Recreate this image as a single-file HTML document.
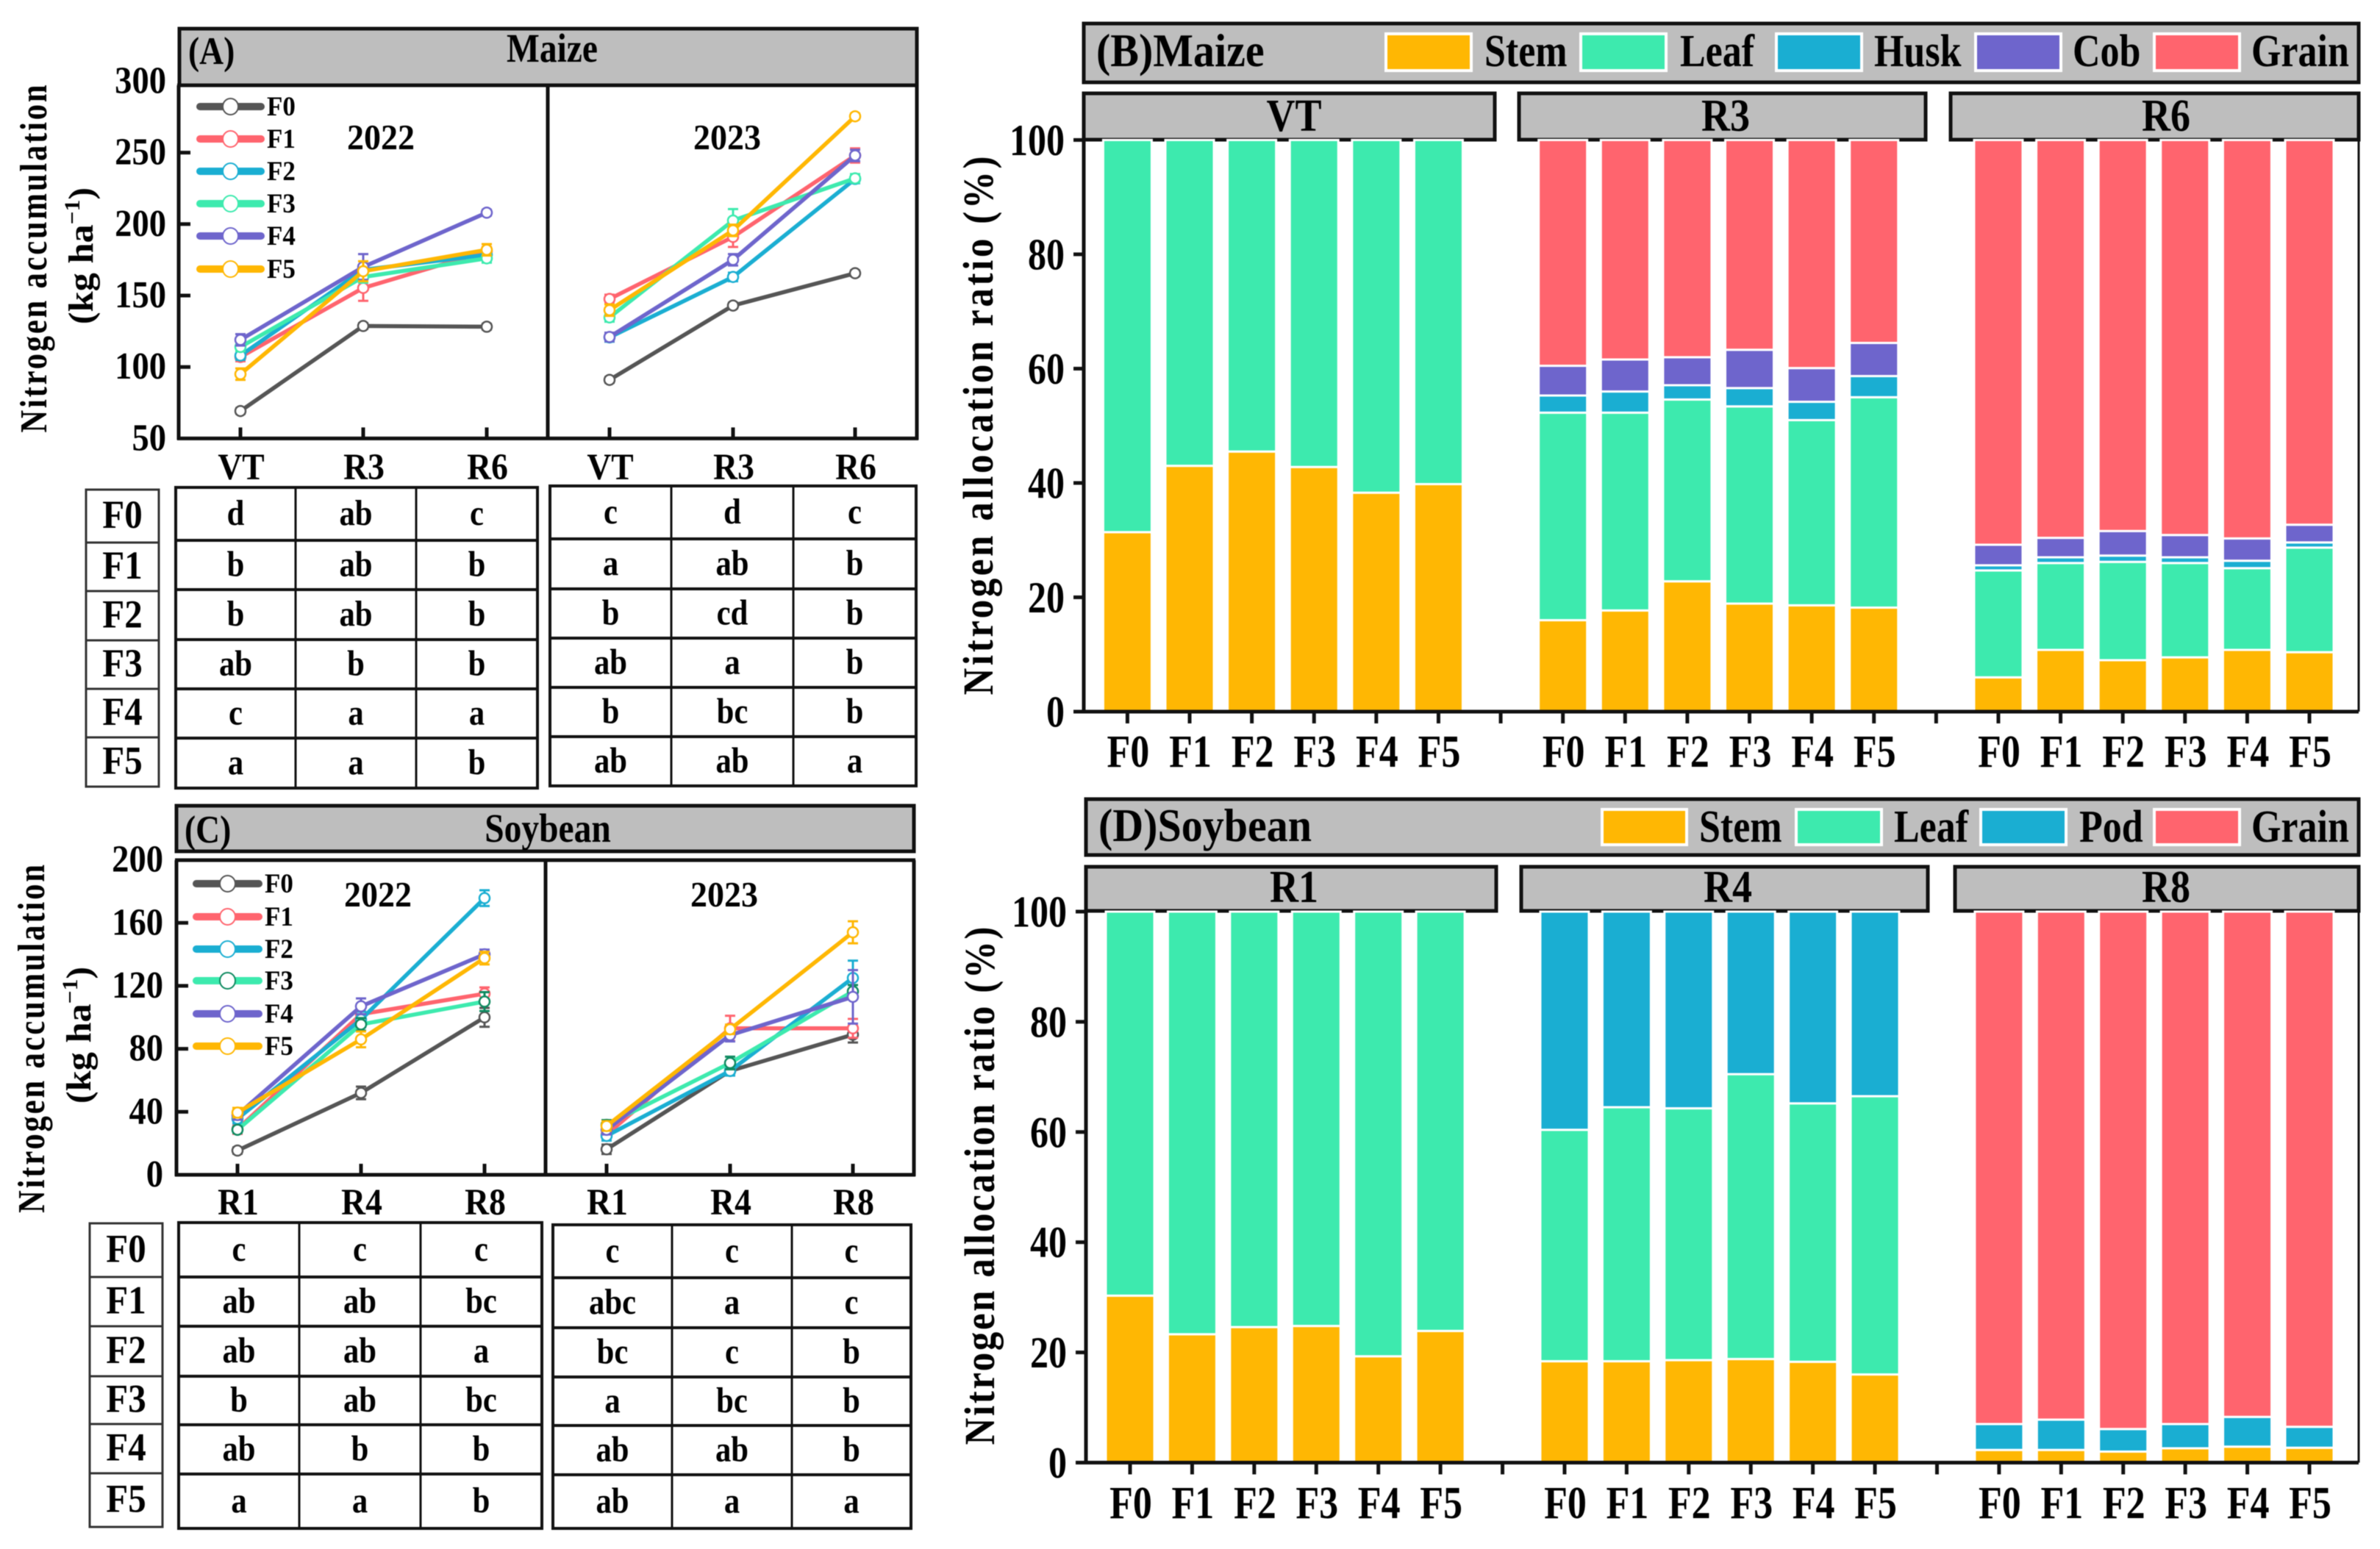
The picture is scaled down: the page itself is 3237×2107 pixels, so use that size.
<!DOCTYPE html>
<html lang="en">
<head>
<meta charset="utf-8">
<title>Nitrogen accumulation and allocation in maize and soybean</title>
<style>
html,body{margin:0;padding:0;background:#fff;}
svg{display:block;filter:blur(0.6px);}
text{font-family:"Liberation Serif","DejaVu Serif",serif;font-weight:bold;fill:#000;}
.bar-box{fill:#bebebe;stroke:#111;stroke-width:5;}
</style>
</head>
<body>
<svg id="fig" xmlns="http://www.w3.org/2000/svg" width="3237" height="2107" viewBox="0 0 3237 2107">
  <rect x="0" y="0" width="3237" height="2107" fill="#fff"/>

  <g>
    <rect class="bar-box" x="244" y="39" width="1003" height="77"/>
    <text transform="translate(256,87) scale(0.95,1.1)" font-size="48">(A)</text>
    <text transform="translate(751,84) scale(0.95,1.1)" font-size="50" text-anchor="middle">Maize</text>
    <text transform="translate(518,203) scale(1,1.05)" font-size="46" text-anchor="middle">2022</text>
    <text transform="translate(989,203) scale(1,1.05)" font-size="46" text-anchor="middle">2023</text>
    <text transform="translate(63,352) rotate(-90) scale(0.82,1)" font-size="52" text-anchor="middle" textLength="577" lengthAdjust="spacing">Nitrogen accumulation</text>
    <text transform="translate(126,348) rotate(-90) scale(1.05,1)" font-size="48" text-anchor="middle">(kg ha<tspan font-size="30" dy="-18">−1</tspan><tspan dy="18">)</tspan></text>
  </g>

  <g>
    <rect class="bar-box" x="240" y="1096" width="1003" height="62"/>
    <text transform="translate(251,1146) scale(0.95,1.1)" font-size="48">(C)</text>
    <text transform="translate(745,1145) scale(0.95,1.1)" font-size="50" text-anchor="middle">Soybean</text>
    <text transform="translate(514,1233) scale(1,1.05)" font-size="46" text-anchor="middle">2022</text>
    <text transform="translate(985,1233) scale(1,1.05)" font-size="46" text-anchor="middle">2023</text>
    <text transform="translate(60,1413) rotate(-90) scale(0.82,1)" font-size="52" text-anchor="middle" textLength="578" lengthAdjust="spacing">Nitrogen accumulation</text>
    <text transform="translate(123,1408) rotate(-90) scale(1.05,1)" font-size="48" text-anchor="middle">(kg ha<tspan font-size="30" dy="-18">−1</tspan><tspan dy="18">)</tspan></text>
  </g>

  <g>
    <rect class="bar-box" x="1474" y="32" width="1734" height="80"/>
    <text transform="translate(1491,90) scale(1,1.1)" font-size="58">(B)Maize</text>
    <rect x="1885" y="46" width="116" height="50" fill="#ffb703" stroke="#fff" stroke-width="4"/>
    <text transform="translate(2019,90) scale(1,1.2)" font-size="52">Stem</text>
    <rect x="2150" y="46" width="116" height="50" fill="#3deaae" stroke="#fff" stroke-width="4"/>
    <text transform="translate(2285,90) scale(1,1.2)" font-size="52">Leaf</text>
    <rect x="2416" y="46" width="116" height="50" fill="#1aaed2" stroke="#fff" stroke-width="4"/>
    <text transform="translate(2549,90) scale(1,1.2)" font-size="52">Husk</text>
    <rect x="2687" y="46" width="116" height="50" fill="#6e65cc" stroke="#fff" stroke-width="4"/>
    <text transform="translate(2819,90) scale(1,1.2)" font-size="52">Cob</text>
    <rect x="2930" y="46" width="116" height="50" fill="#ff646e" stroke="#fff" stroke-width="4"/>
    <text transform="translate(3062,90) scale(1,1.2)" font-size="52">Grain</text>
    <rect class="bar-box" x="1474" y="127" width="559" height="63"/>
    <text transform="translate(1760,178) scale(1,1.15)" font-size="54" text-anchor="middle">VT</text>
    <rect class="bar-box" x="2066" y="127" width="553" height="63"/>
    <text transform="translate(2347,178) scale(1,1.15)" font-size="54" text-anchor="middle">R3</text>
    <rect class="bar-box" x="2653" y="127" width="555" height="63"/>
    <text transform="translate(2946,178) scale(1,1.15)" font-size="54" text-anchor="middle">R6</text>
    <text transform="translate(1350,579) rotate(-90) scale(0.88,1)" font-size="58" text-anchor="middle" textLength="833" lengthAdjust="spacing">Nitrogen allocation ratio (%)</text>
  </g>

  <g>
    <rect class="bar-box" x="1477" y="1087" width="1731" height="76"/>
    <text transform="translate(1494,1144) scale(1,1.1)" font-size="58">(D)Soybean</text>
    <rect x="2179" y="1101" width="115" height="48" fill="#ffb703" stroke="#fff" stroke-width="4"/>
    <text transform="translate(2311,1145) scale(1,1.2)" font-size="52">Stem</text>
    <rect x="2443" y="1101" width="116" height="48" fill="#3deaae" stroke="#fff" stroke-width="4"/>
    <text transform="translate(2576,1145) scale(1,1.2)" font-size="52">Leaf</text>
    <rect x="2694" y="1101" width="116" height="48" fill="#1aaed2" stroke="#fff" stroke-width="4"/>
    <text transform="translate(2828,1145) scale(1,1.2)" font-size="52">Pod</text>
    <rect x="2930" y="1101" width="116" height="48" fill="#ff646e" stroke="#fff" stroke-width="4"/>
    <text transform="translate(3062,1145) scale(1,1.2)" font-size="52">Grain</text>
    <rect class="bar-box" x="1477" y="1179" width="558" height="60"/>
    <text transform="translate(1760,1227) scale(1,1.15)" font-size="54" text-anchor="middle">R1</text>
    <rect class="bar-box" x="2069" y="1179" width="553" height="60"/>
    <text transform="translate(2350,1227) scale(1,1.15)" font-size="54" text-anchor="middle">R4</text>
    <rect class="bar-box" x="2659" y="1179" width="549" height="60"/>
    <text transform="translate(2946,1227) scale(1,1.15)" font-size="54" text-anchor="middle">R8</text>
    <text transform="translate(1352,1613) rotate(-90) scale(0.88,1)" font-size="58" text-anchor="middle" textLength="801" lengthAdjust="spacing">Nitrogen allocation ratio (%)</text>
  </g>

  <g id="marks"></g>
</svg>

<script>
// ---------- shared categories and colours ----------
const treatments = ['F0', 'F1', 'F2', 'F3', 'F4', 'F5'];
const seriesColors = ['#555555', '#ff646e', '#1aaed2', '#3deaae', '#6e65cc', '#ffb703'];

// ---------- panel A: maize N accumulation ----------
const maizeStages = ['VT', 'R3', 'R6'];
const maizeTicks = [50, 100, 150, 200, 250, 300];
const maize2022 = [
  [69.2, 128.7, 128.2],
  [107, 155.3, 181],
  [108, 168, 178.5],
  [114, 163, 176],
  [119, 170, 208],
  [95, 167, 182]
];
const maize2022Err = [
  [2, 2, 2],
  [3, 9, 3],
  [3, 3, 4],
  [3, 4, 3],
  [4, 9, 2],
  [4, 7, 4]
];
const maize2023 = [
  [91, 143, 165.6],
  [147.6, 191, 248],
  [120.7, 163, 231.6],
  [134.7, 202.5, 232],
  [121, 175, 248],
  [139.8, 195.6, 275.4]
];
const maize2023Err = [
  [2, 2, 2],
  [3, 7, 5],
  [3, 3, 3],
  [3, 8, 3],
  [3, 4, 4],
  [4, 4, 2]
];
const maizeLetters2022 = [
  ['d', 'ab', 'c'], ['b', 'ab', 'b'], ['b', 'ab', 'b'],
  ['ab', 'b', 'b'], ['c', 'a', 'a'], ['a', 'a', 'b']
];
const maizeLetters2023 = [
  ['c', 'd', 'c'], ['a', 'ab', 'b'], ['b', 'cd', 'b'],
  ['ab', 'a', 'b'], ['b', 'bc', 'b'], ['ab', 'ab', 'a']
];

// ---------- panel C: soybean N accumulation ----------
const soyStages = ['R1', 'R4', 'R8'];
const soyTicks = [0, 40, 80, 120, 160, 200];
const soy2022 = [
  [15.4, 52, 100],
  [29, 102, 115],
  [35.6, 98.6, 175.7],
  [28.6, 95.5, 110],
  [38, 107, 140],
  [39.5, 86, 137.6]
];
const soy2022Err = [
  [2, 4, 6],
  [3, 5, 4],
  [3, 5, 5],
  [2, 4, 6],
  [3, 5, 3],
  [3, 5, 4]
];
const soy2023 = [
  [16.2, 66, 89],
  [25.5, 93, 93],
  [24.7, 66, 125],
  [31.7, 71, 116.5],
  [28.6, 88.7, 113],
  [31, 92.4, 154]
];
const soy2023Err = [
  [3, 2, 5],
  [3, 8, 6],
  [3, 3, 11],
  [3, 4, 4],
  [3, 4, 17],
  [3, 3, 7]
];
const soyLetters2022 = [
  ['c', 'c', 'c'], ['ab', 'ab', 'bc'], ['ab', 'ab', 'a'],
  ['b', 'ab', 'bc'], ['ab', 'b', 'b'], ['a', 'a', 'b']
];
const soyLetters2023 = [
  ['c', 'c', 'c'], ['abc', 'a', 'c'], ['bc', 'c', 'b'],
  ['a', 'bc', 'b'], ['ab', 'ab', 'b'], ['ab', 'a', 'a']
];

// ---------- panel B: maize allocation (18 bars: VT x6, R3 x6, R6 x6) ----------
const ratioTicks = [0, 20, 40, 60, 80, 100];
const maizeStem = [31.4, 43, 45.5, 42.8, 38.3, 39.8, 16, 17.7, 22.8, 18.9, 18.6, 18.2, 6, 10.8, 9, 9.5, 10.8, 10.4];
const maizeLeaf = [68.6, 57, 54.5, 57.2, 61.7, 60.2, 36.3, 34.6, 31.8, 34.5, 32.4, 36.8, 18.7, 15.2, 17.2, 16.5, 14.3, 18.3];
const maizeHusk = [0, 0, 0, 0, 0, 0, 3, 3.7, 2.5, 3.2, 3.2, 3.7, 0.9, 1, 1.1, 1, 1.3, 0.9];
const maizeCob = [0, 0, 0, 0, 0, 0, 5.2, 5.6, 4.9, 6.7, 5.9, 5.8, 3.6, 3.4, 4.3, 3.9, 3.9, 3.1];
const maizeGrain = [0, 0, 0, 0, 0, 0, 39.5, 38.4, 38, 36.7, 39.9, 35.5, 70.8, 69.6, 68.4, 69.1, 69.7, 67.3];

// ---------- panel D: soybean allocation (18 bars: R1 x6, R4 x6, R8 x6) ----------
const soyStem = [30.3, 23.3, 24.6, 24.8, 19.3, 23.9, 18.4, 18.4, 18.6, 18.8, 18.3, 16, 2.3, 2.3, 2, 2.6, 2.9, 2.7];
const soyLeaf = [69.7, 76.7, 75.4, 75.2, 80.7, 76.1, 42, 46.1, 45.7, 51.7, 46.9, 50.5, 0, 0, 0, 0, 0, 0];
const soyPod = [0, 0, 0, 0, 0, 0, 39.6, 35.5, 35.7, 29.5, 34.8, 33.5, 4.7, 5.5, 4.1, 4.4, 5.4, 3.8];
const soyGrain = [0, 0, 0, 0, 0, 0, 0, 0, 0, 0, 0, 0, 93, 92.2, 93.9, 93, 91.7, 93.5];

// ---------- drawing helpers ----------
const NS = 'http://www.w3.org/2000/svg';
const root = document.getElementById('marks');

function svgEl(tag, attrs, parent) {
  const el = document.createElementNS(NS, tag);
  for (const k in attrs) el.setAttribute(k, attrs[k]);
  (parent || root).appendChild(el);
  return el;
}
function linear(d0, d1, r0, r1) {
  return function (v) { return r0 + (v - d0) * (r1 - r0) / (d1 - d0); };
}
function label(str, x, y, size, anchor, sx, sy, parent, name) {
  const t = svgEl('text', { transform: 'translate(' + x + ',' + y + ') scale(' + sx + ',' + sy + ')', 'font-size': size, 'text-anchor': anchor }, parent);
  t.textContent = str;
  
  
  return t;
}
function rule(x1, y1, x2, y2, color, width, parent, name) {
  const l = svgEl('line', { x1: x1, y1: y1, x2: x2, y2: y2, stroke: color, 'stroke-width': width }, parent);
  
  
  return l;
}

// ---------- line panels ----------
function drawLines(parent, values, errors, xs, yScale, prefix, errColorF3) {
  values.forEach(function (row, s) {
    const g = svgEl('g', {}, parent);
    
    
    const pts = row.map(function (v, i) { return xs[i] + ',' + yScale(v); }).join(' ');
    const line = svgEl('polyline', { points: pts, fill: 'none', stroke: seriesColors[s], 'stroke-width': 5.5 }, g);
    
    
    row.forEach(function (v, i) {
      const c = (s === 3 && errColorF3) ? errColorF3 : seriesColors[s];
      const e = errors[s][i];
      const cx = xs[i];
      rule(cx, yScale(v - e), cx, yScale(v + e), c, 3, g, prefix + '-error-bar');
      rule(cx - 7, yScale(v + e), cx + 7, yScale(v + e), c, 3, g, prefix + '-error-cap');
      rule(cx - 7, yScale(v - e), cx + 7, yScale(v - e), c, 3, g, prefix + '-error-cap');
      const m = svgEl('ellipse', { cx: cx, cy: yScale(v), rx: 7, ry: 7, fill: '#fff', stroke: c, 'stroke-width': 2.5 }, g);
      
      
    });
  });
}
function drawLinePanel(cfg) {
  const g = svgEl('g', {});
  
  
  const y = linear(cfg.domain[0], cfg.domain[1], cfg.bottom, cfg.domainTop);

  // series
  drawLines(g, cfg.left, cfg.leftErr, cfg.xLeft, y, cfg.name + '-2022', cfg.f3Err);
  drawLines(g, cfg.right, cfg.rightErr, cfg.xRight, y, cfg.name + '-2023', cfg.f3Err);

  // frame
  rule(cfg.x0, cfg.top, cfg.x0, cfg.bottom + 2, '#111', 5, g, 'y-axis-line');
  rule(cfg.x1, cfg.top, cfg.x1, cfg.bottom + 2, '#111', 5, g, 'right-border');
  rule(cfg.xMid, cfg.top, cfg.xMid, cfg.bottom + 2, '#111', 5, g, 'year-divider');
  rule(cfg.x0 - 2, cfg.top, cfg.x1 + 2, cfg.top, '#111', 5, g, 'top-border');
  rule(cfg.x0 - 2, cfg.bottom, cfg.x1 + 2, cfg.bottom, '#111', 5, g, 'x-axis-line');

  // y ticks
  cfg.ticks.forEach(function (t, i) {
    const py = y(t);
    if (i > 0 && i < cfg.ticks.length - 1) rule(cfg.x0, py, cfg.x0 + 16, py, '#111', 5, g, 'y-tick');
    label(String(t), cfg.labelX, py + 16, 48, 'end', 0.97, 1.07, g, 'y-tick-label');
  });

  // x ticks
  cfg.xLeft.concat(cfg.xRight).forEach(function (px, i) {
    rule(px, cfg.bottom - 15, px, cfg.bottom, '#111', 5, g, 'x-tick');
    label(cfg.stages[i % 3], px + 1, cfg.xLabelY, 48, 'middle', 0.95, 1.05, g, 'x-tick-label');
  });

  // legend
  treatments.forEach(function (name, s) {
    const ly = cfg.legendY[s];
    const lg = svgEl('g', {}, g);
    
    
    const bar = svgEl('line', { x1: cfg.legendX[0], y1: ly, x2: cfg.legendX[1], y2: ly, stroke: seriesColors[s], 'stroke-width': 10, 'stroke-linecap': 'round' }, lg);
    
    
    const ringColor = (s === 3 && cfg.f3Err) ? cfg.f3Err : seriesColors[s];
    const ring = svgEl('ellipse', { cx: (cfg.legendX[0] + cfg.legendX[1]) / 2, cy: ly, rx: 10.5, ry: 11, fill: '#fff', stroke: ringColor, 'stroke-width': 2 }, lg);
    
    
    label(name, cfg.legendX[1] + 8, ly + 12, 35, 'start', 1, 1.05, lg, 'legend-label');
  });
}

// ---------- significance tables ----------
function drawTable(parent, xs, ys, rows, name) {
  const g = svgEl('g', {}, parent);
  
  
  const bg = svgEl('rect', { x: xs[0], y: ys[0], width: xs[3] - xs[0], height: ys[6] - ys[0], fill: '#fff', stroke: '#111', 'stroke-width': 4 }, g);
  
  
  for (let i = 1; i < 3; i++) rule(xs[i], ys[0], xs[i], ys[6], '#111', 3, g, 'table-column-line');
  for (let j = 1; j < 6; j++) rule(xs[0], ys[j], xs[3], ys[j], '#111', 4, g, 'table-row-line');
  rows.forEach(function (row, j) {
    const cy = (ys[j] + ys[j + 1]) / 2 + 15;
    row.forEach(function (txt, i) {
      label(txt, (xs[i] + xs[i + 1]) / 2, cy, 44, 'middle', 0.97, 1.1, g, 'table-cell-letter');
    });
  });
}
function drawRowHeader(parent, x0, x1, ys, name) {
  const g = svgEl('g', {}, parent);
  
  
  treatments.forEach(function (t, j) {
    const r = svgEl('rect', { x: x0, y: ys[j], width: x1 - x0, height: ys[j + 1] - ys[j], fill: '#fff', stroke: '#333', 'stroke-width': 3 }, g);
    
    
    label(t, (x0 + x1) / 2, (ys[j] + ys[j + 1]) / 2 + 16, 49, 'middle', 1, 1.1, g, 'row-header-label');
  });
}

// ---------- stacked bar panels ----------
function drawStackPanel(cfg) {
  const g = svgEl('g', {});
  
  
  const y = linear(0, 100, cfg.y0, cfg.y100);
  const x = linear(0, 19, cfg.xFirst, cfg.xLast);

  for (let i = 0; i < 18; i++) {
    const slot = i + Math.floor(i / 6);
    let acc = 0;
    cfg.layers.forEach(function (layer) {
      const v = layer.values[i];
      if (v > 0) {
        const r = svgEl('rect', { x: x(slot) - 33, y: y(acc + v), width: 66, height: y(acc) - y(acc + v), fill: layer.color, stroke: '#fff', 'stroke-width': 3 }, g);
        
        
      }
      acc += v;
    });
    label(treatments[i % 6], x(slot) + 1, cfg.xLabelY, 52, 'middle', 1, 1.2, g, 'x-tick-label');
  }

  rule(cfg.x0, cfg.y100, cfg.x0, cfg.y0, '#111', 5, g, 'y-axis-line');
  rule(cfg.x1, cfg.y100, cfg.x1, cfg.y0, '#111', 3, g, 'right-border');
  rule(cfg.x0 - 14, cfg.y0, cfg.x1, cfg.y0, '#111', 5, g, 'x-axis-line');

  for (let s = 0; s < 20; s++) {
    rule(x(s), cfg.y0, x(s), cfg.y0 + 16, '#111', 5, g, 'x-tick');
  }
  ratioTicks.forEach(function (t) {
    rule(cfg.x0 - 14, y(t), cfg.x0, y(t), '#111', 5, g, 'y-tick');
    label(String(t), cfg.x0 - 26, y(t) + 20.5, 50, 'end', 1, 1.2, g, 'y-tick-label');
  });
}

// ---------- assemble ----------
drawLinePanel({
  name: 'panel-a', left: maize2022, leftErr: maize2022Err, right: maize2023, rightErr: maize2023Err,
  xLeft: [327, 494, 662], xRight: [829, 997, 1163], stages: maizeStages, ticks: maizeTicks,
  domain: [50, 300], bottom: 596.4, domainTop: 110.4, top: 116,
  x0: 243, x1: 1247, xMid: 745, labelX: 226, xLabelY: 652,
  legendX: [272, 355], legendY: [145, 189, 233, 277, 321, 366]
});
drawLinePanel({
  name: 'panel-c', left: soy2022, leftErr: soy2022Err, right: soy2023, rightErr: soy2023Err,
  xLeft: [323, 491, 659], xRight: [825, 993, 1160], stages: soyStages, ticks: soyTicks,
  domain: [0, 200], bottom: 1598, domainTop: 1169.6, top: 1170,
  x0: 240, x1: 1243, xMid: 742, labelX: 222, xLabelY: 1652,
  legendX: [267, 352], legendY: [1202, 1247, 1291, 1334, 1379, 1423], f3Err: '#0f8a60'
});

const tables = svgEl('g', {});


drawRowHeader(tables, 117, 216, [666, 738, 804, 871, 937, 1003, 1070], 'maize-row-header');
drawTable(tables, [239, 402, 566, 731], [663, 735, 802, 870, 937, 1004, 1072], maizeLetters2022, 'maize-table-2022');
drawTable(tables, [748, 913, 1079, 1246], [661, 733, 801, 868, 935, 1002, 1069], maizeLetters2023, 'maize-table-2023');
drawRowHeader(tables, 122, 221, [1664, 1737, 1804, 1872, 1937, 2004, 2077], 'soybean-row-header');
drawTable(tables, [243, 407, 572, 737], [1663, 1737, 1804, 1872, 1938, 2005, 2079], soyLetters2022, 'soybean-table-2022');
drawTable(tables, [752, 914, 1077, 1239], [1666, 1738, 1806, 1873, 1939, 2006, 2079], soyLetters2023, 'soybean-table-2023');

drawStackPanel({
  name: 'panel-b', y0: 968, y100: 190.4, xFirst: 1533.4, xLast: 3141, x0: 1474, x1: 3208, xLabelY: 1043,
  layers: [
    { key: 'stem', color: '#ffb703', values: maizeStem },
    { key: 'leaf', color: '#3deaae', values: maizeLeaf },
    { key: 'husk', color: '#1aaed2', values: maizeHusk },
    { key: 'cob', color: '#6e65cc', values: maizeCob },
    { key: 'grain', color: '#ff646e', values: maizeGrain }
  ]
});
drawStackPanel({
  name: 'panel-d', y0: 1989.5, y100: 1240, xFirst: 1537, xLast: 3141, x0: 1477, x1: 3208, xLabelY: 2065,
  layers: [
    { key: 'stem', color: '#ffb703', values: soyStem },
    { key: 'leaf', color: '#3deaae', values: soyLeaf },
    { key: 'pod', color: '#1aaed2', values: soyPod },
    { key: 'grain', color: '#ff646e', values: soyGrain }
  ]
});
</script>
</body>
</html>
